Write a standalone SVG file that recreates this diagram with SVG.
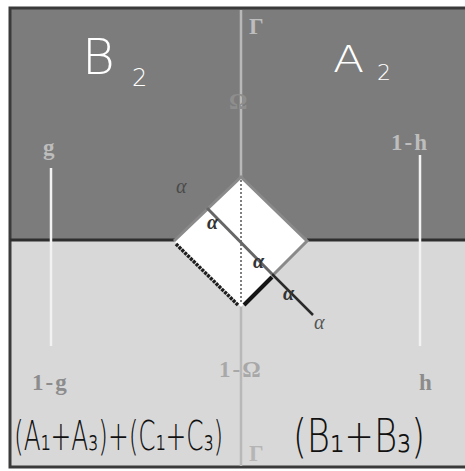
<svg xmlns="http://www.w3.org/2000/svg" width="465" height="471" viewBox="0 0 465 471">
<style>
.lbl{font-family:"Liberation Serif",serif;font-weight:bold;font-size:23px;fill:#bdbdbd;letter-spacing:2px}
.hand{font-family:"DejaVu Sans","Liberation Sans",sans-serif;font-weight:200}
.alpha{font-family:"Liberation Serif",serif;font-style:italic;font-size:20px;fill:#4a4a4a}
</style>
<rect width="465" height="471" fill="#ffffff"/>
<g id="regions">
<rect x="10" y="8" width="455" height="232" fill="#7c7c7c"/>
<rect x="10" y="240" width="455" height="227" fill="#d8d8d8"/>
<path d="M465,8 H10 V467 H465" fill="none" stroke="#3a3a3a" stroke-width="3"/>
<line x1="10" y1="240" x2="175" y2="240" stroke="#2e2e2e" stroke-width="3"/>
<line x1="307" y1="240" x2="465" y2="240" stroke="#2e2e2e" stroke-width="3"/>
</g>
<g id="connectors">
<line x1="241" y1="10" x2="241" y2="466" stroke="#b8b8b8" stroke-width="2.5"/>
<line x1="51" y1="168" x2="51" y2="346" stroke="#f2f2f2" stroke-width="2.5"/>
<line x1="420" y1="155" x2="420" y2="346" stroke="#f2f2f2" stroke-width="2.5"/>
</g>
<g id="diamond">
<polygon points="241,177 307,241 241,307 174,241" fill="#ffffff"/>
<path d="M174,241 L241,177 L307,241 L272,276" fill="none" stroke="#8a8a8a" stroke-width="3"/>
<line x1="176" y1="244" x2="238" y2="305" stroke="#1e1e1e" stroke-width="3.5" stroke-dasharray="3 1"/>
<line x1="244" y1="305" x2="272" y2="277" stroke="#151515" stroke-width="4"/>
<line x1="241" y1="180" x2="241" y2="304" stroke="#555" stroke-width="1.5" stroke-dasharray="2 2"/>
<line x1="207" y1="208" x2="272" y2="274" stroke="#666" stroke-width="3"/>
<line x1="272" y1="274" x2="313" y2="315" stroke="#2a2a2a" stroke-width="2.5"/>
</g>
<g id="labels">
<text class="lbl" x="249" y="34" font-weight="normal">Γ</text>
<text class="lbl" x="229" y="109" style="fill:#8e8e8e">Ω</text>
<text class="lbl" x="43" y="155">g</text>
<text class="lbl" x="391" y="150">1-h</text>
<text class="lbl" x="32" y="390" style="fill:#8c8c8c">1-g</text>
<text class="lbl" x="419" y="390" style="fill:#8c8c8c">h</text>
<text class="lbl" x="219" y="377" style="fill:#a8a8a8">1-Ω</text>
<text class="lbl" x="249" y="461" font-weight="normal" style="fill:#b5b5b5">Γ</text>
<text class="alpha" x="176" y="193">α</text>
<text class="alpha" x="314" y="329" style="fill:#555">α</text>
<text class="alpha" x="207" y="229" style="fill:#333;font-weight:bold">α</text>
<text class="alpha" x="253" y="268" style="fill:#333;font-weight:bold">α</text>
<text class="alpha" x="283" y="300" style="fill:#333;font-weight:bold">α</text>
</g>
<g id="handwriting">
<text class="hand" x="82" y="74" font-size="50" fill="#ffffff">B</text>
<text class="hand" x="132" y="86" font-size="24" fill="#ffffff">2</text>
<text class="hand" transform="translate(333,72) scale(1.2,1)" font-size="38" fill="#ffffff">A</text>
<text class="hand" x="377" y="80" font-size="22" fill="#ffffff">2</text>
<text class="hand" transform="translate(14,450) scale(0.62,1)" font-size="40" fill="#111">(A₁+A₃)+(C₁+C₃)</text>
<text class="hand" transform="translate(293,452) scale(0.77,1)" font-size="46" fill="#111">(B₁+B₃)</text>
</g>
</svg>
